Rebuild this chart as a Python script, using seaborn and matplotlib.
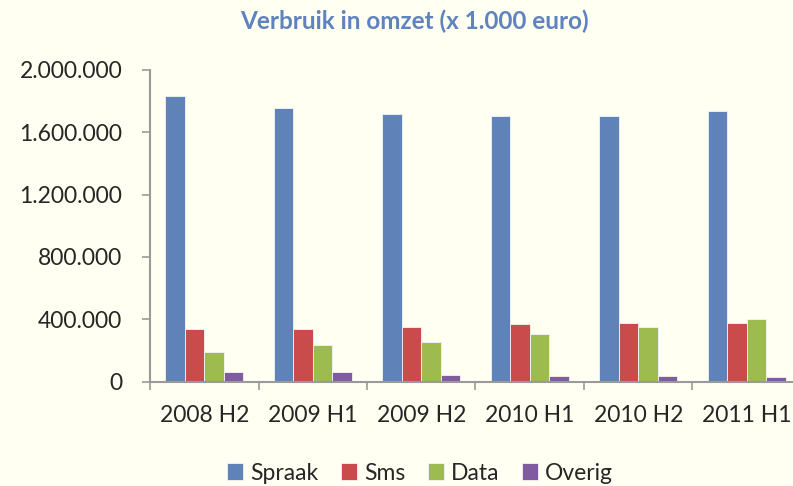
import pandas as pd
import seaborn as sns
import matplotlib.pyplot as plt
from matplotlib.ticker import FuncFormatter, FixedLocator

periodes = ["2008 H2", "2009 H1", "2009 H2", "2010 H1", "2010 H2", "2011 H1"]
spraak = [1831000, 1756000, 1714000, 1701000, 1701000, 1733000]
sms = [340000, 340000, 351000, 368000, 374000, 378000]
data = [188000, 235000, 256000, 304000, 349000, 404000]
overig = [64000, 64000, 41000, 37000, 37000, 28000]

soorten = ["Spraak", "Sms", "Data", "Overig"]
kleuren = ["#5F82B9", "#C94B4B", "#9DBB4F", "#7F5BA0"]
achtergrond = "#FFFFF2"


def maak_tabel() -> pd.DataFrame:
    rijen = []
    for soort, waarden in zip(soorten, [spraak, sms, data, overig]):
        for periode, waarde in zip(periodes, waarden):
            rijen.append({"periode": periode, "soort": soort, "waarde": waarde})
    return pd.DataFrame(rijen)


def main():
    sns.set_style("white")
    plt.rcParams["font.family"] = ["Lato", "DejaVu Sans"]

    fig = plt.figure(figsize=(7.93, 4.86), dpi=100, facecolor=achtergrond)
    ax = fig.add_axes([150 / 793, 104.3 / 486, 651 / 793, 312 / 486])
    ax.set_facecolor(achtergrond)

    df = maak_tabel()
    sns.barplot(data=df, x="periode", y="waarde", hue="soort", order=periodes,
                hue_order=soorten, palette=kleuren, width=0.72, saturation=1,
                edgecolor="#F4F4F4", linewidth=0.6, ax=ax)

    ax.set_xlim(-0.5, 5.5)
    ax.set_ylim(0, 2000000)
    ax.set_yticks(range(0, 2000001, 400000))
    ax.yaxis.set_major_formatter(FuncFormatter(lambda v, _: f"{int(v):,}".replace(",", ".")))
    ax.xaxis.set_minor_locator(FixedLocator([i - 0.5 for i in range(7)]))

    ax.tick_params(axis="y", which="major", length=6, width=1.2, color="#9A9A9A",
                   labelsize=16.5, pad=14, direction="out", left=True)
    ax.tick_params(axis="x", which="major", length=0, labelsize=16.5, pad=17)
    ax.tick_params(axis="x", which="minor", length=6, width=1.2, color="#9A9A9A",
                   direction="out", bottom=True)

    for kant in ["top", "right"]:
        ax.spines[kant].set_visible(False)
    for kant in ["left", "bottom"]:
        ax.spines[kant].set_color("#9A9A9A")
        ax.spines[kant].set_linewidth(1.5)

    ax.set_xlabel("")
    ax.set_ylabel("")

    fig.text(414 / 793, 1 - 21 / 486, "Verbruik in omzet (x 1.000 euro)", ha="center",
             va="center", fontsize=17.5, fontweight="bold", color="#5F82C0")

    ax.legend_.remove()
    handles, labels = ax.get_legend_handles_labels()
    fig.legend(handles, labels, loc="center", bbox_to_anchor=(420 / 793, 13 / 486),
               ncol=4, frameon=False, fontsize=16.5, handlelength=0.7, handleheight=0.7,
               handletextpad=0.3, columnspacing=1.0)

    fig.savefig("out.png", dpi=100, facecolor=achtergrond)


if __name__ == '__main__':
    main()
